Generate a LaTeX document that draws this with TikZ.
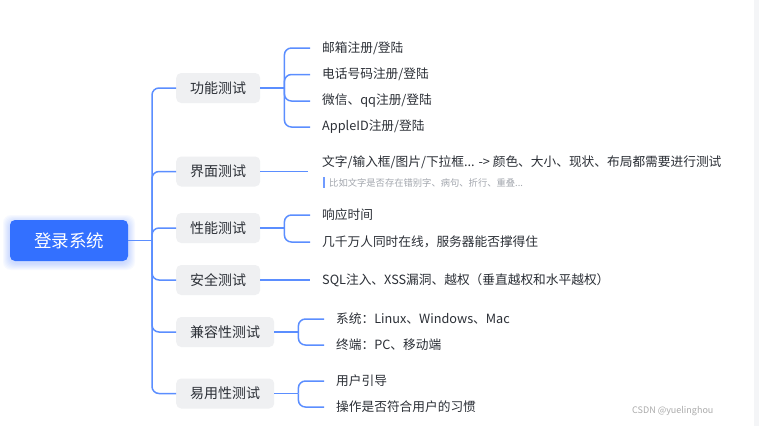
\documentclass[tikz,border=0pt]{standalone}
\usepackage{fontspec}
\setmainfont{Noto Sans CJK SC}
\definecolor{rootblue}{HTML}{3370FF}
\definecolor{linkblue}{HTML}{5B8EFF}
\definecolor{boxgrey}{HTML}{EFF0F2}
\definecolor{txtdark}{HTML}{2B2F36}
\definecolor{notegrey}{HTML}{A3A7AE}
\definecolor{stripgrey}{HTML}{F4F5F7}
\definecolor{wmgrey}{HTML}{ABABAB}
\tikzset{
  rootbox/.style={fill=rootblue, text=white, rounded corners=5pt, minimum width=118pt, minimum height=41pt, font=\fontsize{17.5}{20}\selectfont, inner sep=0pt},
  childbox/.style={fill=boxgrey, text=txtdark, rounded corners=5pt, minimum height=30pt, inner xsep=14pt, inner ysep=0pt, font=\fontsize{14}{16}\selectfont, anchor=west},
  leaf/.style={text=txtdark, inner sep=0pt, anchor=west, font=\fontsize{12.7}{15}\selectfont},
  notetext/.style={text=notegrey, inner sep=0pt, anchor=west, font=\fontsize{9.3}{11}\selectfont},
  conn/.style={draw=linkblue, line width=1.5pt},
  elbow/.style={conn, rounded corners=7pt},
  glow/.style={fill=rootblue, fill opacity=0.035, rounded corners=8pt},
}
\begin{document}
\begin{tikzpicture}[x=1pt,y=-1pt]
\useasboundingbox (0,0) rectangle (759,426);
\fill[white] (0,0) rectangle (759,426);
\fill[stripgrey] (754,0) rectangle (759,426);

% soft glow behind root
\foreach \d in {1,2,...,7} {
  \fill[glow] (10-\d,222-\d) rectangle (128+\d,263+\d);
}

% root
\node[rootbox] (root) at (69,240.5) {登录系统};
\coordinate (tr) at (152,240.5);

% children
\node[childbox] (c1) at (176,88) {功能测试};
\node[childbox] (c2) at (176,171.5) {界面测试};
\node[childbox] (c3) at (176,228) {性能测试};
\node[childbox] (c4) at (176,280) {安全测试};
\node[childbox] (c5) at (176,332) {兼容性测试};
\node[childbox] (c6) at (176,393.5) {易用性测试};

\draw[conn] (root.east) -- (tr);
\foreach \c in {c1,c2,c3,c4,c5,c6} {
  \draw[elbow] (tr) |- (\c.west);
}

% leaves
\node[leaf] (l11) at (322,48) {邮箱注册/登陆};
\node[leaf] (l12) at (322,74.5) {电话号码注册/登陆};
\node[leaf] (l13) at (322,101) {微信、qq注册/登陆};
\node[leaf] (l14) at (322,127) {AppleID注册/登陆};

\node[leaf] (l21) at (322,162.5) {文字/输入框/图片/下拉框... -> 颜色、大小、现状、布局都需要进行测试};
\node[notetext] (n21) at (329,182.5) {比如文字是否存在错别字、病句、折行、重叠...};
\coordinate (bt) at (324,177);
\coordinate (bb) at (324,188);
\draw[draw=rootblue!70, line width=1.3pt] (bt) -- (bb);

\node[leaf] (l31) at (322,215) {响应时间};
\node[leaf] (l32) at (322,242) {几千万人同时在线，服务器能否撑得住};

\node[leaf] (l41) at (322,280) {SQL注入、XSS漏洞、越权（垂直越权和水平越权）};

\node[leaf] (l51) at (336,319) {系统：Linux、Windows、Mac};
\node[leaf] (l52) at (336,345) {终端：PC、移动端};

\node[leaf] (l61) at (336,381) {用户引导};
\node[leaf] (l62) at (336,407) {操作是否符合用户的习惯};

% connectors to leaves
\coordinate (f1) at ([xshift=24pt]c1.east);
\draw[conn] (c1.east) -- (f1);
\foreach \l in {l11,l12,l13,l14} { \draw[elbow] (f1) |- ([xshift=-12pt]\l.west); }

\draw[conn] (c2.east) -- ([xshift=-14pt]l21.west |- c2.east);

\coordinate (f3) at ([xshift=24pt]c3.east);
\draw[conn] (c3.east) -- (f3);
\foreach \l in {l31,l32} { \draw[elbow] (f3) |- ([xshift=-12pt]\l.west); }

\draw[conn] (c4.east) -- ([xshift=-12pt]l41.west);

\coordinate (f5) at ([xshift=24pt]c5.east);
\draw[conn] (c5.east) -- (f5);
\foreach \l in {l51,l52} { \draw[elbow] (f5) |- ([xshift=-12pt]\l.west); }

\coordinate (f6) at ([xshift=24pt]c6.east);
\draw[conn] (c6.east) -- (f6);
\foreach \l in {l61,l62} { \draw[elbow] (f6) |- ([xshift=-12pt]\l.west); }

% watermark
\node[text=wmgrey, inner sep=0pt, anchor=west, font=\fontsize{9}{11}\selectfont] (wm) at (632,411) {CSDN @yuelinghou};
\end{tikzpicture}
\end{document}
